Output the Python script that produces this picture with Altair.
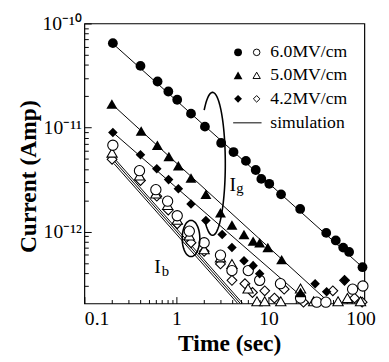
import altair as alt
import numpy as np
import pandas as pd

# ---------------- data ----------------
# Ig, filled markers
ig60_t = [0.204, 0.407, 0.624, 0.817, 1.02, 1.44, 2.04, 3.06, 4.17, 5.69, 7.27, 8.36, 10.2, 13.7, 22.1, 42.4, 53.8, 64.8, 75.1, 105]
ig60_i = [6.47e-11, 3.91e-11, 2.77e-11, 2.22e-11, 1.85e-11, 1.36e-11, 1.02e-11, 7.11e-12, 5.81e-12, 4.78e-12,
          3.91e-12, 3.21e-12, 2.88e-12, 2.28e-12, 1.65e-12, 9.72e-13, 8.22e-13, 7.02e-13, 6.38e-13, 4.55e-13]
ig50_t = [0.199, 0.414, 0.621, 0.828, 1.05, 1.44, 2.09, 3.01, 4.01, 5.42, 6.81, 8.02, 9.84, 13.9, 22.3]
ig50_i = [1.68e-11, 9.27e-12, 6.76e-12, 5.27e-12, 4.29e-12, 3.27e-12, 2.28e-12, 1.52e-12, 1.16e-12, 9.37e-13,
          8.1e-13, 7.82e-13, 7.02e-13, 5.38e-13, 2.6e-13]
ig42_t = [0.204, 0.407, 0.612, 0.822, 1.05, 1.44, 2.09, 3.14, 4.01, 5.42, 6.81, 8.02, 32.1, 42.8, 67.1]
ig42_i = [8.98e-12, 5.48e-12, 4.02e-12, 3.16e-12, 2.58e-12, 1.84e-12, 1.28e-12, 9.37e-13, 7.02e-13, 5.25e-13,
          4.71e-13, 3.93e-13, 3.16e-13, 2.64e-13, 3.4e-13]
# Ib, open markers
ib60_t = [0.204, 0.397, 0.598, 0.802, 1.02, 1.38, 2.0, 3.01, 4.01, 6.03, 8.02, 13.5, 22.3, 33.4, 42.0, 82.0, 106.0]
ib60_i = [6.76e-12, 3.85e-12, 2.53e-12, 1.96e-12, 1.42e-12, 1.01e-12, 7.82e-13, 5.94e-13, 4.22e-13, 4.22e-13,
          3.4e-13, 3.16e-13, 2.3e-13, 2.1e-13, 2.1e-13, 2.8e-13, 3.0e-13]
ib50_t = [0.2, 0.397, 0.598, 0.802, 1.02, 1.38, 2.0, 3.01, 4.01, 6.0, 7.5, 9.1, 13.6, 22.3, 31, 57, 72, 100]
ib50_i = [5.73e-12, 3.45e-12, 2.32e-12, 1.8e-12, 1.3e-12, 9.16e-13, 6.76e-13, 5.65e-13, 4.89e-13, 2.84e-13,
          2.14e-13, 2.14e-13, 2.14e-13, 2.84e-13, 2.14e-13, 2.14e-13, 2.3e-13, 2.14e-13]
ib42_t = [0.2, 0.407, 0.612, 0.815, 1.02, 1.44, 2.0, 3.01, 4.01, 5.55, 6.7, 9.1, 11.6, 14.8, 24, 50, 67, 86, 104]
ib42_i = [4.95e-12, 3.1e-12, 2.19e-12, 1.61e-12, 1.19e-12, 7.82e-13, 6.47e-13, 4.89e-13, 3.4e-13, 3.16e-13,
          2.6e-13, 2.7e-13, 2.3e-13, 2.8e-13, 2.1e-13, 2.7e-13, 3.4e-13, 2.3e-13, 2.1e-13]

# simulation lines (end points)
sim_names = ["ig60", "ig50", "ig42", "ib60", "ib50", "ib42"]
sim_t = [[0.2, 105], [0.199, 46.8], [0.204, 28.0], [0.21, 5.25], [0.21, 4.94], [0.21, 4.63]]
sim_i = [[6.5e-11, 4.55e-13], [1.68e-11, 2.04e-13], [8.98e-12, 2.04e-13],
         [5.1e-12, 2.04e-13], [4.8e-12, 2.04e-13], [4.5e-12, 2.04e-13]]

legend_labels = ["6.0MV/cm", "5.0MV/cm", "4.2MV/cm", "simulation"]

x_major = [0.1, 1, 10, 100]
x_minor = [0.2, 0.3, 0.4, 0.5, 0.6, 0.7, 0.8, 0.9, 2, 3, 4, 5, 6, 7, 8, 9, 20, 30, 40, 50, 60, 70, 80, 90]
y_major = [1e-12, 1e-11, 1e-10]
y_minor = [3e-13, 4e-13, 5e-13, 6e-13, 7e-13, 8e-13, 9e-13,
           2e-12, 3e-12, 4e-12, 5e-12, 6e-12, 7e-12, 8e-12, 9e-12,
           2e-11, 3e-11, 4e-11, 5e-11, 6e-11, 7e-11, 8e-11, 9e-11]

FONT = "Liberation Serif"
W, H = 286, 286
X_DOM = [0.1, 110]
Y_DOM = [2.04e-13, 1e-10]

xs = alt.Scale(type="log", domain=X_DOM, nice=False)
ys = alt.Scale(type="log", domain=Y_DOM, nice=False)

# pixels per decade (for drawing the hand-drawn loops in log space)
XDEC = W / np.log10(X_DOM[1] / X_DOM[0])
YDEC = H / np.log10(Y_DOM[1] / Y_DOM[0])


def loop_df(tc, ic, rx, ry, a0, a1, n=80):
    phi = np.linspace(a0, a1, n)
    dx = rx * np.sin(phi)
    dy = -ry * np.cos(phi)
    t = tc * 10 ** (dx / XDEC)
    i = ic * 10 ** (-dy / YDEC)
    return pd.DataFrame({"t": t, "i": i, "k": np.arange(n)})


def df(t, i):
    return pd.DataFrame({"t": t, "i": i})


def pts(t, i, shape, filled, size):
    d = df(t, i)
    if filled:
        m = alt.Chart(d).mark_point(shape=shape, filled=True, fill="black", stroke="black",
                                    strokeWidth=0, size=size, opacity=1)
    else:
        m = alt.Chart(d).mark_point(shape=shape, filled=True, fill="white", stroke="black",
                                    strokeWidth=1.1, size=size, opacity=1, fillOpacity=1)
    return m.encode(x=alt.X("t:Q", scale=xs, axis=None), y=alt.Y("i:Q", scale=ys, axis=None))


# simulation lines
rows = []
for n, tt, ii in zip(sim_names, sim_t, sim_i):
    for a, b in zip(tt, ii):
        rows.append({"t": a, "i": b, "s": n})
sim_df = pd.DataFrame(rows)

lines = alt.Chart(sim_df).mark_line(color="black", strokeWidth=1, clip=True).encode(
    x=alt.X("t:Q", scale=xs, axis=alt.Axis(values=x_minor, tickSize=4, offset=-4, labels=False, domain=False,
                                             grid=False, title=None, orient="bottom", tickColor="black")),
    y=alt.Y("i:Q", scale=ys, axis=alt.Axis(values=y_minor, tickSize=4, offset=-4, labels=False, domain=False,
                                             grid=False, title=None, orient="left", tickColor="black")),
    detail="s:N",
)

major = pts(ig60_t, ig60_i, "circle", True, 100).encode(
    x=alt.X("t:Q", scale=xs, axis=alt.Axis(values=x_major, tickSize=7, offset=-7, domain=False, grid=False,
                                             orient="bottom", format="~g", labelFont=FONT, labelFontSize=20,
                                             labelColor="black", labelPadding=6, tickColor="black",
                                             title="Time (sec)", titleFont=FONT, titleFontSize=24,
                                             titleFontWeight="bold", titleColor="black", titlePadding=3,
                                             titleX=148)),
    y=alt.Y("i:Q", scale=ys, axis=alt.Axis(values=y_major, tickSize=7, offset=-7, domain=False, grid=False,
                                             orient="left",
                                             labelExpr="datum.value < 5e-12 ? '10⁻¹²' : (datum.value < 5e-11 ? '10⁻¹¹' : '10⁻¹⁰')",
                                             labelFont=FONT, labelFontSize=20, labelColor="black", labelPadding=3,
                                             tickColor="black", title="Current (Amp)", titleFont=FONT,
                                             titleFontSize=24, titleFontWeight="bold", titleColor="black",
                                             titlePadding=2, titleY=156)),
)

layers = [lines,
          pts(ib42_t, ib42_i, "diamond", False, 100),
          pts(ib50_t, ib50_i, "triangle-up", False, 110),
          pts(ib60_t, ib60_i, "circle", False, 110),
          pts(ig42_t, ig42_i, "diamond", True, 95),
          pts(ig50_t, ig50_i, "triangle-up", True, 125),
          major]

# hand-drawn loops marking the Ig and Ib groups
for d in [loop_df(2.47, 4.48e-12, 13, 73, -0.72, 3.80), loop_df(1.44, 8.59e-13, 9, 18.5, 0, 2 * np.pi)]:
    layers.append(alt.Chart(d).mark_line(color="black", strokeWidth=1.6).encode(
        x=alt.X("t:Q", scale=xs, axis=None), y=alt.Y("i:Q", scale=ys, axis=None), order="k:Q"))

# I_g and I_b labels
for txt, tx, ty, fs in [("I", 3.78, 2.45e-12, 20), ("g", 4.46, 2.33e-12, 15),
                        ("I", 0.5735, 3.99e-13, 20), ("b", 0.692, 3.76e-13, 15)]:
    layers.append(alt.Chart(df([tx], [ty])).mark_text(text=txt, font=FONT, fontSize=fs, align="left",
                                                       baseline="alphabetic", color="black").encode(
        x=alt.X("t:Q", scale=xs, axis=None), y=alt.Y("i:Q", scale=ys, axis=None)))

# legend (pixel positions inside plot area)
one = pd.DataFrame({"a": [0]})
leg_rows = [29.5, 53, 77, 101.5]
leg_shapes = ["circle", "triangle-up", "diamond"]
leg_sizes = [64, 80, 64]
for k in range(3):
    layers.append(alt.Chart(one).mark_point(shape=leg_shapes[k], filled=True, fill="black", strokeWidth=0,
                                            size=leg_sizes[k], opacity=1).encode(
        x=alt.value(157), y=alt.value(leg_rows[k])))
    layers.append(alt.Chart(one).mark_point(shape=leg_shapes[k], filled=False, stroke="black", strokeWidth=1,
                                            size=leg_sizes[k] * 0.7, opacity=1).encode(
        x=alt.value(176), y=alt.value(leg_rows[k])))
layers.append(alt.Chart(one).mark_rule(color="black", strokeWidth=1).encode(
    x=alt.value(152), x2=alt.value(181), y=alt.value(leg_rows[3])))
for k in range(4):
    layers.append(alt.Chart(one).mark_text(text=legend_labels[k], font=FONT, fontSize=18, align="left",
                                           baseline="middle", color="black").encode(
        x=alt.value(190), y=alt.value(leg_rows[k])))

chart = alt.layer(*layers).resolve_axis(x="independent", y="independent").properties(
    width=W, height=H,
    padding={"left": 78, "top": 12, "right": 17, "bottom": 56},
    autosize=alt.AutoSizeParams(type="none"),
    background="white",
).configure_view(stroke="black", strokeWidth=1.2)

chart.save("out.html", embed_options={"renderer": "svg", "actions": False})
